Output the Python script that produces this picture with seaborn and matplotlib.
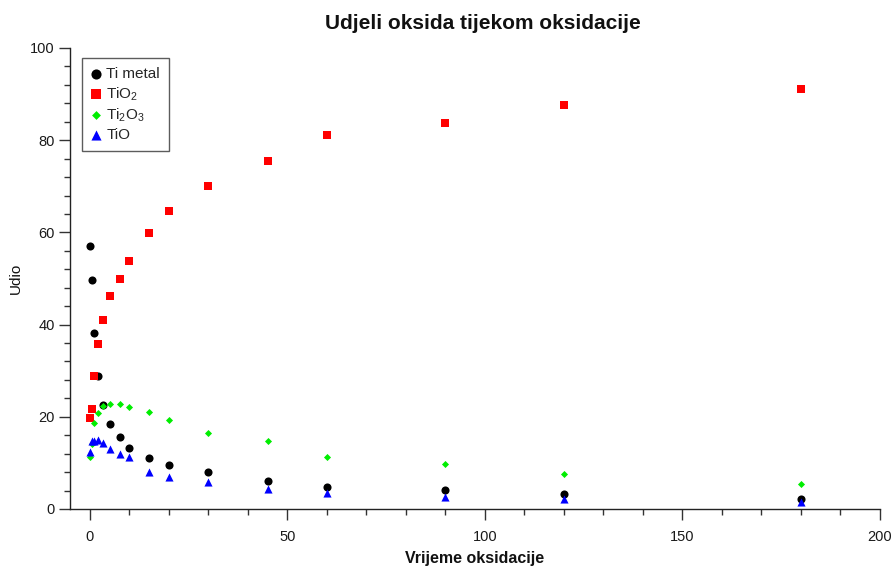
import numpy as np
import pandas as pd
import matplotlib
matplotlib.use("Agg")
import matplotlib.pyplot as plt
from matplotlib.ticker import MultipleLocator
import seaborn as sns

# ---- data ----
time_min = [0, 0.5, 1, 2, 3.33, 5, 7.5, 10, 15, 20, 30, 45, 60, 90, 120, 180]
ti_metal = [57.0, 49.7, 38.2, 28.9, 22.5, 18.5, 15.6, 13.2, 11.0, 9.5, 8.0, 6.0, 4.7, 4.1, 3.3, 2.2]
tio2 = [19.8, 21.6, 28.9, 35.7, 41.1, 46.1, 50.0, 53.9, 59.9, 64.6, 70.1, 75.5, 81.1, 83.7, 87.6, 91.1]
ti2o3 = [11.2, 14.0, 18.7, 20.8, 22.4, 22.8, 22.8, 22.1, 21.1, 19.3, 16.4, 14.7, 11.3, 9.8, 7.7, 5.5]
tio = [12.3, 14.7, 14.8, 15.0, 14.3, 13.1, 11.9, 11.2, 8.0, 6.9, 5.8, 4.3, 3.4, 2.7, 2.2, 1.6]

series_names = ["Ti metal", r"TiO$_\mathregular{2}$", r"Ti$_\mathregular{2}$O$_\mathregular{3}$", "TiO"]
series_values = [ti_metal, tio2, ti2o3, tio]
series_colors = ["#000000", "#ff0000", "#00ee00", "#0000ff"]
series_markers = ["o", "s", "D", "^"]
series_sizes = [34, 36, 13, 34]

title = "Udjeli oksida tijekom oksidacije"
x_label = "Vrijeme oksidacije"
y_label = "Udio"

sns.set_theme(style="ticks")
plt.rcParams["font.family"] = ["Liberation Sans", "DejaVu Sans"]
plt.rcParams["mathtext.fontset"] = "custom"
plt.rcParams["mathtext.rm"] = "Liberation Sans"

W, H = 895, 566
fig = plt.figure(figsize=(W / 100, H / 100), dpi=100)
ax = fig.add_axes([70 / W, 1 - 509 / H, 810 / W, 461 / H])

for name, vals, col, mk, sz in zip(series_names, series_values, series_colors, series_markers, series_sizes):
    df = pd.DataFrame({"t": time_min, "v": vals})
    sns.scatterplot(data=df, x="t", y="v", ax=ax, color=col, marker=mk, s=sz,
                    linewidth=0, label=name, clip_on=False, zorder=3)

ax.set_xlim(-5.06, 200)
ax.set_ylim(0, 100)
ax.xaxis.set_major_locator(MultipleLocator(50))
ax.xaxis.set_minor_locator(MultipleLocator(10))
ax.yaxis.set_major_locator(MultipleLocator(20))
ax.yaxis.set_minor_locator(MultipleLocator(4))

for s in ["top", "right"]:
    ax.spines[s].set_visible(False)
for s in ["left", "bottom"]:
    ax.spines[s].set_color("#222222")
    ax.spines[s].set_linewidth(1.0)

ax.tick_params(axis="both", which="major", length=8, width=1.0, color="#333333",
               labelsize=10.5, labelcolor="#1a1a1a", direction="out")
ax.tick_params(axis="both", which="minor", length=4, width=1.0, color="#333333", direction="out")
ax.tick_params(axis="x", which="major", pad=7)
ax.tick_params(axis="y", which="major", pad=3)

ax.set_xlabel(x_label, fontsize=11.5, fontweight="bold", color="#111111")
ax.xaxis.set_label_coords((475 - 70) / 810, (509 - 551) / 461)
ax.set_ylabel(y_label, fontsize=11, color="#111111")
ax.yaxis.set_label_coords((23 - 70) / 810, 0.5)

fig.text(483 / W, 1 - 29 / H, title, ha="center", va="baseline",
         fontsize=15, fontweight="bold", color="#111111")

leg = ax.legend(loc="upper left", bbox_to_anchor=((82 - 70) / 810, (509 - 58) / 461),
                borderaxespad=0, frameon=True, fancybox=False, fontsize=11,
                handlelength=0.6, handletextpad=0.4, labelspacing=0.25,
                borderpad=0.6, markerscale=1.25)
leg.get_frame().set_edgecolor("#333333")
leg.get_frame().set_linewidth(1.0)

fig.savefig("out.png", dpi=100)
